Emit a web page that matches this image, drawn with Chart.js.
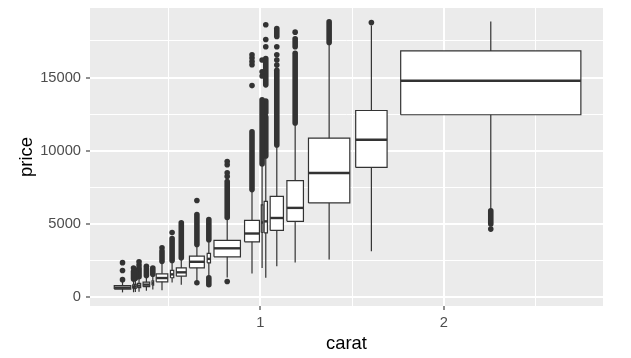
<!DOCTYPE html>
<html>
<head>
<meta charset="utf-8">
<script src="https://cdn.jsdelivr.net/npm/chart.js@4.4.1/dist/chart.umd.min.js"></script>
<style>
  html, body { margin: 0; padding: 0; background: #ffffff; }
  #wrap { width: 631px; height: 358px; }
</style>
</head>
<body>
<div id="wrap"><canvas id="grafico-preco"></canvas></div>
<script>
// carat range of each of the 20 groups (cut_number(carat, 20))
var caratMin = [0.20, 0.31, 0.32, 0.33, 0.36, 0.41, 0.43, 0.51, 0.54, 0.61, 0.71, 0.74, 0.91, 1.01, 1.02, 1.05, 1.14, 1.25, 1.51, 1.71];
var caratMax = [0.30, 0.31, 0.32, 0.35, 0.40, 0.42, 0.50, 0.53, 0.60, 0.70, 0.73, 0.90, 1.00, 1.01, 1.04, 1.13, 1.24, 1.50, 1.70, 2.80];

// price summary of each group
var whiskerLow  = [330, 340, 350, 380, 450, 520, 480, 1000, 860, 1010, 1400, 1340, 1620, 2000, 1330, 2110, 2370, 2570, 3140, 5950];
var lowerQ      = [560, 590, 610, 650, 720, 820, 1050, 1330, 1440, 2010, 2350, 2760, 3780, 4420, 4400, 4560, 5180, 6440, 8860, 12460];
var medianPrice = [650, 700, 730, 790, 860, 950, 1310, 1560, 1700, 2420, 2620, 3340, 4350, 5100, 5180, 5410, 6100, 8480, 10750, 14780];
var upperQ      = [790, 850, 880, 950, 1030, 1120, 1600, 1830, 2000, 2800, 3000, 3880, 5250, 6300, 6540, 6880, 7960, 10860, 12750, 16820];
var whiskerHigh = [1070, 1230, 1280, 1390, 1480, 1550, 2420, 2500, 2680, 3590, 3920, 5420, 7330, 9050, 9600, 10350, 11850, 17340, 18550, 18820];

// outliers: dense stretches [from, to] and single points
var outlierRuns = [
  [],
  [[1240, 1750]],
  [[1290, 1700]],
  [[1400, 2000]],
  [[1490, 1950]],
  [[1570, 2000]],
  [[2450, 3150]],
  [[2510, 4000]],
  [[2700, 5080]],
  [[3600, 5640]],
  [[3930, 5300], [850, 1320]],
  [[5450, 7900]],
  [[7350, 11300]],
  [[9100, 13480]],
  [[9650, 12300], [12600, 13400], [14500, 16300]],
  [[10400, 15500], [17800, 18350]],
  [[11900, 16650], [17100, 17650]],
  [[17400, 18800]],
  [],
  [[5000, 5900]]
];
var outlierDots = [
  [1200, 1820, 2360],
  [2000],
  [1850],
  [2200, 2420],
  [2110],
  [],
  [3380],
  [4420],
  [],
  [6600, 985],
  [],
  [8250, 8500, 9050, 9270, 1070],
  [14450, 15870, 16100, 16330, 16550],
  [15100, 15400, 16200],
  [17100, 17600, 18600],
  [15850, 16200, 16550, 17100],
  [18100],
  [],
  [18750],
  [4650]
];

var xMajorTicks = [1, 2];
var xMinorTicks = [0.5, 1.5, 2.5];
var yMajorTicks = [0, 5000, 10000, 15000];
var yMinorTicks = [2500, 7500, 12500, 17500];

var tinta = '#333333';

function montarDatasets() {
    var ds = [];
    caratMin.forEach(function (lo, i) {
        var hi = caratMax[i];
        var meio = (lo + hi) / 2;
        var metade = hi > lo ? (hi - lo) * 0.45 : 0.0045;
        var x0 = meio - metade, x1 = meio + metade;

        ds.push({
            order: 3,
            data: [{x: meio, y: whiskerLow[i]}, {x: meio, y: whiskerHigh[i]}],
            borderColor: tinta, borderWidth: 1.2, pointRadius: 0, fill: false
        });
        ds.push({
            order: 2,
            data: [{x: x0, y: lowerQ[i]}, {x: x1, y: lowerQ[i]}, {x: x1, y: upperQ[i]}, {x: x0, y: upperQ[i]}, {x: x0, y: lowerQ[i]}],
            borderColor: tinta, borderWidth: 1.2, backgroundColor: '#ffffff', fill: 'shape',
            pointRadius: 0, borderJoinStyle: 'miter'
        });
        ds.push({
            order: 1,
            data: [{x: x0, y: medianPrice[i]}, {x: x1, y: medianPrice[i]}],
            borderColor: tinta, borderWidth: 2.4, pointRadius: 0, fill: false
        });
        outlierRuns[i].forEach(function (r) {
            ds.push({
                order: 0,
                data: [{x: meio, y: r[0]}, {x: meio, y: r[1]}],
                borderColor: tinta, borderWidth: 5.6, borderCapStyle: 'round', pointRadius: 0, fill: false
            });
        });
        if (outlierDots[i].length) {
            ds.push({
                order: 0,
                data: outlierDots[i].map(function (v) { return {x: meio, y: v}; }),
                showLine: false, pointRadius: 2.8, pointBorderWidth: 0,
                pointBackgroundColor: tinta, fill: false
            });
        }
    });
    return ds;
}

var fundoPainel = {
    id: 'fundoPainel',
    beforeDraw: function (chart) {
        var a = chart.chartArea, ctx = chart.ctx;
        ctx.save();
        ctx.fillStyle = '#EBEBEB';
        ctx.fillRect(a.left, a.top, a.right - a.left, a.bottom - a.top);
        ctx.restore();
    }
};

function loadChartPreco() {
    var el = document.getElementById('grafico-preco').getContext('2d');
    window.myBox = new Chart(el, {
        type: 'line',
        data: { datasets: montarDatasets() },
        plugins: [fundoPainel],
        options: {
            responsive: true,
            maintainAspectRatio: false,
            animation: false,
            layout: { padding: { left: 0, top: 8, right: 28, bottom: 0 } },
            plugins: { legend: { display: false }, tooltip: { enabled: false } },
            scales: {
                x: {
                    type: 'linear', min: 0.073, max: 2.866, bounds: 'data',
                    afterBuildTicks: function (s) {
                        s.ticks = xMinorTicks.concat(xMajorTicks).sort().map(function (v) { return {value: v}; });
                    },
                    afterFit: function (s) {
                        s.height = 52;
                        s.paddingLeft = 0; s.paddingRight = 0; s.paddingTop = 0; s.paddingBottom = 0;
                    },
                    border: { display: false },
                    grid: {
                        color: '#ffffff',
                        lineWidth: function (c) { return xMajorTicks.indexOf(c.tick.value) >= 0 ? 2 : 1; },
                        tickColor: function (c) { return xMajorTicks.indexOf(c.tick.value) >= 0 ? tinta : 'rgba(0,0,0,0)'; },
                        tickLength: 4, tickWidth: 1.1
                    },
                    ticks: {
                        autoSkip: false, maxRotation: 0, padding: 4, color: '#4D4D4D',
                        font: { family: 'Liberation Sans', size: 14.7 },
                        callback: function (v) { return xMajorTicks.indexOf(v) >= 0 ? String(v) : ''; }
                    },
                    title: {
                        display: true, text: 'carat', color: '#000000',
                        font: { family: 'Liberation Sans', size: 18.4 },
                        padding: { top: 0, bottom: 2.7 }
                    }
                },
                y: {
                    type: 'linear', min: -599, max: 19748, bounds: 'data',
                    afterBuildTicks: function (s) {
                        s.ticks = yMajorTicks.concat(yMinorTicks).sort(function (a, b) { return a - b; }).map(function (v) { return {value: v}; });
                    },
                    afterFit: function (s) {
                        s.width = 90;
                        s.paddingLeft = 0; s.paddingRight = 0; s.paddingTop = 0; s.paddingBottom = 0;
                    },
                    border: { display: false },
                    grid: {
                        color: '#ffffff',
                        lineWidth: function (c) { return yMajorTicks.indexOf(c.tick.value) >= 0 ? 2 : 1; },
                        tickColor: function (c) { return yMajorTicks.indexOf(c.tick.value) >= 0 ? tinta : 'rgba(0,0,0,0)'; },
                        tickLength: 4, tickWidth: 1.1
                    },
                    ticks: {
                        autoSkip: false, padding: 5, color: '#4D4D4D',
                        font: { family: 'Liberation Sans', size: 14.7 },
                        callback: function (v) { return yMajorTicks.indexOf(v) >= 0 ? String(v) : ''; }
                    },
                    title: {
                        display: true, text: 'price', color: '#000000',
                        font: { family: 'Liberation Sans', size: 18.4 },
                        padding: { top: 16, bottom: 0 }
                    }
                }
            }
        }
    });
}

loadChartPreco();
</script>
</body>
</html>
